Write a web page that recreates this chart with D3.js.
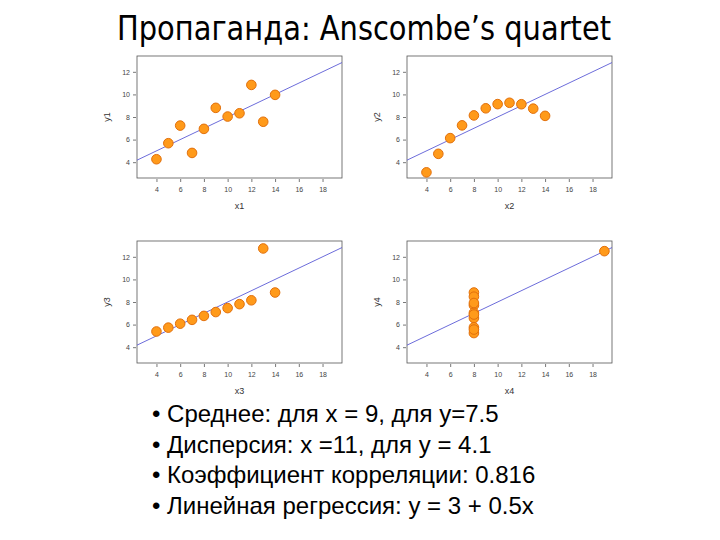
<!DOCTYPE html>
<html>
  <head>
    <meta charset="UTF-8">
    <script src="https://d3js.org/d3.v7.min.js"></script>
    <title>Anscombe</title>
    <style>
      body { margin: 0; background: #fff; }
    </style>
  </head>
  <body>
    <svg id="f1" width="720" height="540"></svg>
    <script>
    // Anscombe's quartet
    var x123 = [10, 8, 13, 9, 11, 14, 6, 4, 12, 7, 5];
    var x4 = [8, 8, 8, 8, 8, 8, 8, 19, 8, 8, 8];
    var y1 = [8.04, 6.95, 7.58, 8.81, 8.33, 9.96, 7.24, 4.26, 10.84, 4.82, 5.68];
    var y2 = [9.14, 8.14, 8.74, 8.77, 9.26, 8.10, 6.13, 3.10, 9.13, 7.26, 4.74];
    var y3 = [7.46, 6.77, 12.74, 7.11, 7.81, 8.84, 6.08, 5.39, 8.15, 6.42, 5.73];
    var y4 = [6.58, 5.76, 7.71, 8.84, 8.47, 7.04, 5.25, 12.50, 5.56, 7.91, 6.89];
    var xTicks = [4, 6, 8, 10, 12, 14, 16, 18];
    var yTicks = [4, 6, 8, 10, 12];
    var fit = [3, 0.5];   // y = 3 + 0.5x

    var title = "Пропаганда: Anscombe’s quartet";
    var bullets = [
      "Среднее: для  x = 9, для y=7.5",
      "Дисперсия: x =11, для y = 4.1",
      "Коэффициент корреляции: 0.816",
      "Линейная регрессия: y = 3 + 0.5x"
    ];

    var panels = [
      {xs: x123, ys: y1, xl: "x1", yl: "y1", left: 137, top: 56},
      {xs: x123, ys: y2, xl: "x2", yl: "y2", left: 407, top: 56},
      {xs: x123, ys: y3, xl: "x3", yl: "y3", left: 137, top: 241},
      {xs: x4,   ys: y4, xl: "x4", yl: "y4", left: 407, top: 241}
    ];

    var svg = d3.select("#f1");
    var w = 205, h = 122;

    svg.append("text")
      .attr("x", 117).attr("y", 40)
      .attr("textLength", 494)
      .attr("lengthAdjust", "spacingAndGlyphs")
      .style("font-family", "'DejaVu Sans', sans-serif")
      .style("font-size", "33px")
      .text(title);

    panels.forEach(function(p) {
      var x = d3.scaleLinear().domain([2.36, 19.64]).range([0, w]);
      var y = d3.scaleLinear().domain([2.6, 13.4]).range([h, 0]);
      var g = svg.append("g").attr("transform", "translate(" + p.left + "," + p.top + ")");

      g.append("rect").attr("width", w).attr("height", h)
        .attr("fill", "none").attr("stroke", "#555").attr("stroke-width", 0.8);

      var xa = g.append("g").attr("transform", "translate(0," + (h + 1) + ")")
        .call(d3.axisBottom(x).tickValues(xTicks).tickSize(3).tickPadding(5));
      var ya = g.append("g").attr("transform", "translate(-1,0)")
        .call(d3.axisLeft(y).tickValues(yTicks).tickSize(3).tickPadding(3));
      [xa, ya].forEach(function(a) {
        a.select(".domain").remove();
        a.selectAll("line").attr("stroke", "#555").attr("stroke-width", 0.8);
        a.selectAll("text").attr("fill", "#444")
          .style("font-family", "'Liberation Sans', Arial, sans-serif")
          .style("font-size", "7px");
      });

      g.append("text")
        .attr("x", w / 2).attr("y", h + 31)
        .attr("text-anchor", "middle")
        .attr("fill", "#333")
        .style("font-family", "'Liberation Sans', Arial, sans-serif")
        .style("font-size", "9px")
        .text(p.xl);
      g.append("text")
        .attr("transform", "translate(-27," + (h / 2) + ") rotate(-90)")
        .attr("text-anchor", "middle")
        .attr("fill", "#333")
        .style("font-family", "'Liberation Sans', Arial, sans-serif")
        .style("font-size", "9px")
        .text(p.yl);

      // regression line across the box
      var xd = x.domain();
      g.append("clipPath").attr("id", "clip" + p.xl)
        .append("rect").attr("width", w).attr("height", h);
      g.append("line")
        .attr("clip-path", "url(#clip" + p.xl + ")")
        .attr("x1", x(xd[0])).attr("y1", y(fit[0] + fit[1] * xd[0]))
        .attr("x2", x(xd[1])).attr("y2", y(fit[0] + fit[1] * xd[1]))
        .attr("stroke", "#5b5bd6").attr("stroke-width", 0.9);

      g.selectAll("circle").data(p.xs).enter().append("circle")
        .attr("cx", function(d) { return x(d); })
        .attr("cy", function(d, i) { return y(p.ys[i]); })
        .attr("r", 4.8)
        .attr("fill", "#ff9a1a")
        .attr("stroke", "#e2700c")
        .attr("stroke-width", 1);
    });

    var bl = svg.append("g")
      .style("font-family", "'Liberation Sans', Arial, sans-serif")
      .style("font-size", "24px")
      .style("white-space", "pre");
    bl.selectAll("text").data(bullets).enter().append("text")
      .attr("x", 152)
      .attr("y", function(d, i) { return 422 + i * 30.5; })
      .text(function(d) { return "• " + d; });
    </script>
  </body>
</html>
